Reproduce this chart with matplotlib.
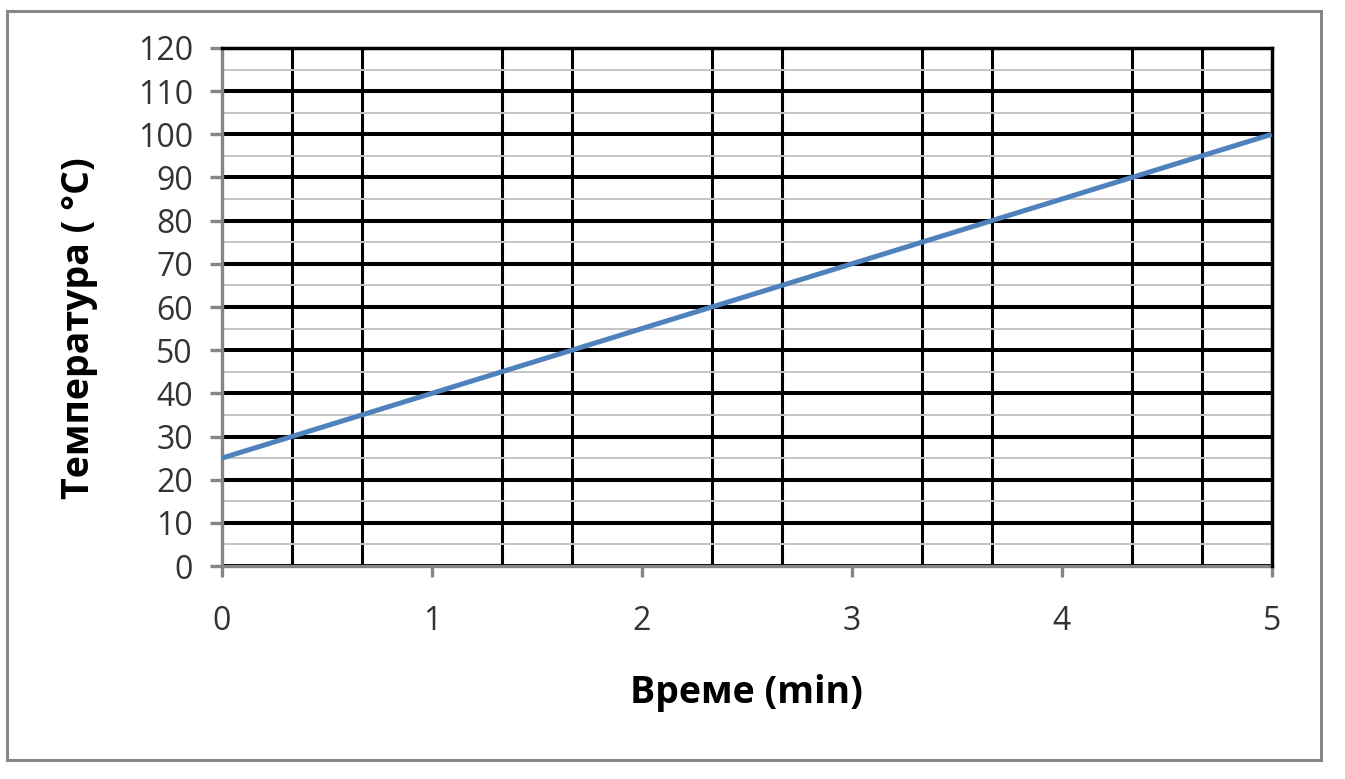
import numpy as np
import matplotlib
matplotlib.use("Agg")
import matplotlib.pyplot as plt
from matplotlib.patches import Rectangle
from matplotlib.ticker import MultipleLocator

# data
time_min = [0, 1, 2, 3, 4, 5]
temp_c = [25, 40, 55, 70, 85, 100]

x_ticks = [0, 1, 2, 3, 4, 5]
y_ticks = list(range(0, 121, 10))

plt.rcParams["font.family"] = ["Open Sans", "DejaVu Sans"]

fig = plt.figure(figsize=(13.45, 7.79), dpi=100)
ax = fig.add_axes([0.165, 0.2734, 0.7805, 0.665])

# outer chart border
fig.patches.append(Rectangle((0.0055, 0.024), 0.9765, 0.962, transform=fig.transFigure,
                             fill=False, edgecolor="#888888", linewidth=2.2))

ax.set_xlim(0, 5)
ax.set_ylim(0, 120)
ax.set_xticks(x_ticks)
ax.set_yticks(y_ticks)
ax.xaxis.set_minor_locator(MultipleLocator(1 / 3))
ax.yaxis.set_minor_locator(MultipleLocator(5))

# grid: black major horizontals, thin grey minor horizontals, black verticals every 1/3
ax.grid(axis="y", which="major", color="black", linewidth=2.9, zorder=1)
ax.grid(axis="y", which="minor", color="#c4c4c4", linewidth=1.4, zorder=0)
ax.grid(axis="x", which="minor", color="black", linewidth=2.2, zorder=1)
ax.set_axisbelow(True)

ax.plot(time_min, temp_c, color="#4f81bd", linewidth=3.6, solid_capstyle="butt", zorder=3,
        clip_on=False)

for side in ("top", "right"):
    ax.spines[side].set_color("black")
    ax.spines[side].set_linewidth(2.5)
for side in ("left", "bottom"):
    ax.spines[side].set_color("#868686")
    ax.spines[side].set_linewidth(2.4)
    ax.spines[side].set_zorder(2)

ax.tick_params(axis="both", which="major", direction="out", color="#868686",
               width=2.4, labelsize=23, labelcolor="#333333")
ax.tick_params(axis="y", which="major", length=9, pad=12)
ax.tick_params(axis="x", which="major", length=8, pad=20)
ax.tick_params(axis="both", which="minor", length=0)

ax.set_xlabel("Време (min)", fontsize=27, fontweight="bold", va="center")
ax.set_ylabel("Температура ( °C)", fontsize=27, fontweight="bold", va="center")
ax.xaxis.set_label_coords(0.5, -0.246)
ax.yaxis.set_label_coords(-0.136, 0.46)

fig.savefig("out.png", dpi=100)
